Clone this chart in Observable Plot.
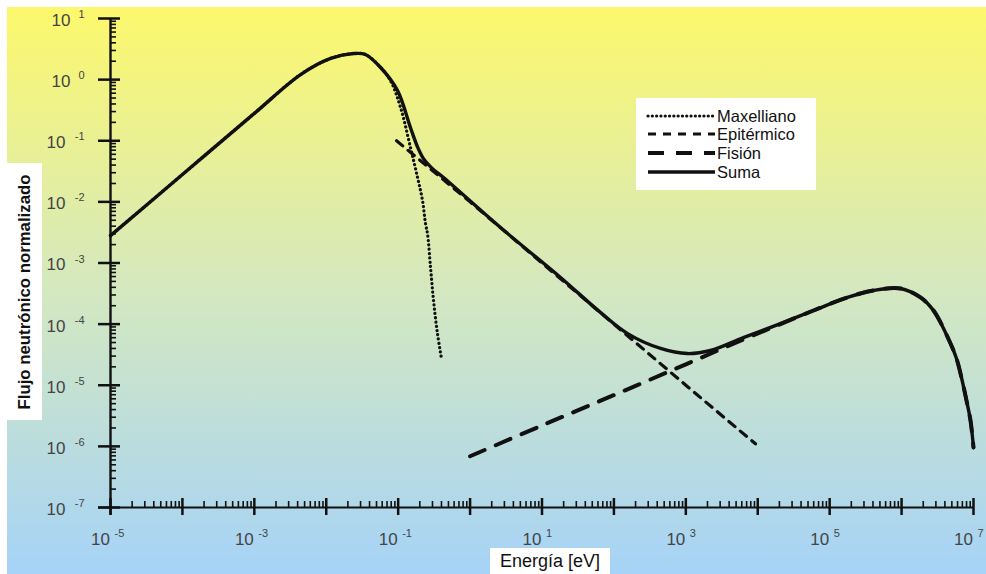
<!DOCTYPE html>
<html><head><meta charset="utf-8">
<script src="https://cdn.jsdelivr.net/npm/d3@7"></script>
<script src="https://cdn.jsdelivr.net/npm/@observablehq/plot@0.6"></script>
<style>
html,body{margin:0;padding:0;background:#fff;}
#wrap{position:relative;width:986px;height:574px;overflow:hidden;font-family:"Liberation Sans",Arial,sans-serif;}
#bg{position:absolute;left:7px;top:7px;width:979px;height:567px;background:linear-gradient(to bottom,#fdf86c 0%,#d4e8c0 50%,#a6d3f7 100%);}
#chart{position:absolute;left:0;top:0;}
#chart svg{background:transparent !important;}
#ylab{position:absolute;left:7px;top:163px;width:35px;height:257px;background:#fff;}
#ylab span{position:absolute;left:50%;top:50%;transform:translate(-50%,-50%) rotate(-90deg);white-space:nowrap;font-weight:bold;font-size:16.8px;color:#111;}
#xlab{position:absolute;left:490px;top:548px;width:120px;height:26px;background:#fff;font-size:18px;text-align:center;line-height:26px;color:#111;}
#legend{position:absolute;left:636px;top:98px;width:180px;height:92px;background:#fff;}
</style>
</head><body>
<div id="wrap">
  <div id="bg"></div>
  <div id="chart"></div>
  <div id="ylab"><span></span></div>
  <div id="xlab"></div>
  <div id="legend"></div>
</div>
<script>
// ---- data ----
const seriesNames = ["Maxelliano", "Epitérmico", "Fisión", "Suma"];
const yTitle = "Flujo neutrónico normalizado";
const xTitle = "Energía [eV]";

const maxE = [1e-5, 1e-4, 1e-3, 4.4e-3, 1.15e-2, 2.4e-2, 3.5e-2, 5.7e-2, 7.8e-2, 0.108, 0.148, 0.186, 0.218, 0.24, 0.256, 0.282, 0.31, 0.352, 0.40];
const maxF = [2.8e-3, 2.8e-2, 0.28, 1.21, 2.22, 2.67, 2.58, 1.58, 0.97, 0.35, 0.078, 0.025, 0.0105, 4.4e-3, 3.0e-3, 8.4e-4, 2.44e-4, 7.0e-5, 2.74e-5];

const epiE = [0.095, 1, 10, 100, 1000, 9300];
const epiF = [0.1, 0.01, 1e-3, 1e-4, 1.0e-5, 1.1e-6];

const fisE = [1, 10, 100, 1000, 6300, 2.07e4, 5.96e4, 1.77e5, 4.06e5, 9.66e5, 1.83e6, 2.78e6, 4.79e6, 5.8e6, 6.8e6, 8.0e6, 9.08e6, 1e7];
const fisF = [6.9e-7, 2.2e-6, 6.9e-6, 2.2e-5, 5.6e-5, 1.0e-4, 1.67e-4, 2.73e-4, 3.55e-4, 3.83e-4, 2.73e-4, 1.67e-4, 4.82e-5, 2.74e-5, 1.34e-5, 5.6e-6, 2.65e-6, 9.6e-7];

const sumaE = [1e-5, 1e-4, 1e-3, 4.4e-3, 1.15e-2, 2.4e-2, 3.5e-2, 5.7e-2, 9.8e-2, 0.148, 0.186, 0.225, 0.30, 0.427, 2.65, 18.1, 63, 155, 445, 1050, 2200, 6300, 2.07e4, 5.96e4, 1.77e5, 4.06e5, 9.66e5, 1.83e6, 2.78e6, 4.79e6, 5.8e6, 6.8e6, 8.0e6, 9.08e6, 1e7];
const sumaF = [2.8e-3, 2.8e-2, 0.28, 1.21, 2.22, 2.67, 2.58, 1.58, 0.66, 0.165, 0.079, 0.051, 0.035, 0.025, 3.8e-3, 5.8e-4, 1.6e-4, 7.0e-5, 4.0e-5, 3.3e-5, 3.7e-5, 6.0e-5, 1.02e-4, 1.67e-4, 2.73e-4, 3.55e-4, 3.83e-4, 2.73e-4, 1.67e-4, 4.82e-5, 2.74e-5, 1.34e-5, 5.6e-6, 2.65e-6, 9.6e-7];

const xDecades = [-5, -4, -3, -2, -1, 0, 1, 2, 3, 4, 5, 6, 7];
const xLabelExps = [-5, -3, -1, 1, 3, 5, 7];
const yDecades = [-7, -6, -5, -4, -3, -2, -1, 0, 1];
const minorMult = [2, 3, 4, 5, 6, 7, 8, 9];

// ---- layout ----
const W = 986, H = 574, ML = 110, MR = 13, MT = 18, MB = 67;
const pxDecX = (W - ML - MR) / 12, pxDecY = (H - MT - MB) / 8;
const shiftX = (v, px) => v * Math.pow(10, px / pxDecX);
const shiftY = (v, px) => v * Math.pow(10, -px / pxDecY);

const rows = (E, F) => E.map((e, i) => ({E: e, F: F[i]}));
const xMajor = xDecades.map(k => Math.pow(10, k));
const xMinor = xDecades.slice(0, -1).flatMap(k => minorMult.map(m => m * Math.pow(10, k)));
const yMajor = yDecades.map(k => Math.pow(10, k));
const yMinor = yDecades.slice(0, -1).flatMap(k => minorMult.map(m => m * Math.pow(10, k)));
const xLab = xLabelExps.map(k => ({v: Math.pow(10, k), e: String(k)}));
const yLabPos = yDecades.filter(k => k >= 0).map(k => ({v: Math.pow(10, k), e: String(k)}));
const yLabNeg = yDecades.filter(k => k < 0).map(k => ({v: Math.pow(10, k), e: String(k)}));

const xMin = 1e-5, yMin = 1e-7;
const lab = "#444";
const styles = {
  "Maxelliano": {strokeWidth: 3.2, strokeDasharray: "0.1,4.2", strokeLinecap: "round"},
  "Epitérmico": {strokeWidth: 3.2, strokeDasharray: "8,7"},
  "Fisión": {strokeWidth: 4, strokeDasharray: "16,12"},
  "Suma": {strokeWidth: 3.4}
};

const chart = Plot.plot({
  width: W, height: H, marginLeft: ML, marginRight: MR, marginTop: MT, marginBottom: MB,
  x: {type: "log", domain: [1e-5, 1e7], axis: null},
  y: {type: "log", domain: [1e-7, 10], axis: null},
  style: {background: "transparent", overflow: "visible", fontFamily: "Liberation Sans, Arial, sans-serif"},
  marks: [
    // axes
    Plot.ruleY([yMin], {x1: shiftX(xMin, -12), x2: 1e7, stroke: "#111", strokeWidth: 2.2}),
    Plot.ruleX([xMin], {y1: shiftY(yMin, 8), y2: 10, stroke: "#111", strokeWidth: 2.4}),
    Plot.ruleX(xMajor, {x: d => d, y1: shiftY(yMin, 8), y2: shiftY(yMin, -9), stroke: "#111", strokeWidth: 2.5}),
    Plot.ruleX(xMinor, {x: d => d, y1: yMin, y2: shiftY(yMin, -6), stroke: "#111", strokeWidth: 1.6}),
    Plot.ruleY(yMajor, {y: d => d, x1: shiftX(xMin, -12), x2: shiftX(xMin, 10), stroke: "#111", strokeWidth: 2.5}),
    Plot.ruleY(yMinor, {y: d => d, x1: xMin, x2: shiftX(xMin, 6), stroke: "#111", strokeWidth: 1.6}),
    // tick labels
    Plot.text(xLab, {x: "v", y: yMin, text: () => "10", dx: -10, dy: 32, fontSize: 17, fill: lab, textAnchor: "middle"}),
    Plot.text(xLab, {x: "v", y: yMin, text: "e", dx: 4, dy: 26, fontSize: 11, fill: lab, textAnchor: "start"}),
    Plot.text(yLabPos, {x: xMin, y: "v", text: () => "10", dx: -40, dy: 2, fontSize: 17, fill: lab, textAnchor: "end"}),
    Plot.text(yLabNeg, {x: xMin, y: "v", text: () => "10", dx: -45, dy: 2, fontSize: 17, fill: lab, textAnchor: "end"}),
    Plot.text([...yLabPos, ...yLabNeg], {x: xMin, y: "v", text: "e", dx: -26, dy: -4, fontSize: 11, fill: lab, textAnchor: "end"}),
    // series
    Plot.line(rows(maxE, maxF), {x: "E", y: "F", stroke: "#111", curve: "catmull-rom", ...styles["Maxelliano"]}),
    Plot.line(rows(epiE, epiF), {x: "E", y: "F", stroke: "#111", ...styles["Epitérmico"]}),
    Plot.line(rows(fisE, fisF), {x: "E", y: "F", stroke: "#111", curve: "catmull-rom", ...styles["Fisión"]}),
    Plot.line(rows(sumaE, sumaF), {x: "E", y: "F", stroke: "#111", curve: "catmull-rom", ...styles["Suma"]})
  ]
});
document.getElementById("chart").appendChild(chart);
document.querySelector("#ylab span").textContent = yTitle;
document.getElementById("xlab").textContent = xTitle;

// legend
const lsvg = d3.create("svg").attr("width", 180).attr("height", 92);
const rowY = [18, 36, 55, 74];
seriesNames.forEach((name, i) => {
  const st = styles[name];
  lsvg.append("line").attr("x1", 12).attr("x2", 79).attr("y1", rowY[i]).attr("y2", rowY[i])
    .attr("stroke", "#111").attr("stroke-width", st.strokeWidth)
    .attr("stroke-dasharray", st.strokeDasharray || null)
    .attr("stroke-linecap", st.strokeLinecap || null);
  lsvg.append("text").attr("x", 81).attr("y", rowY[i]).attr("dy", "0.36em")
    .attr("font-size", 16.5).attr("fill", "#111")
    .attr("font-family", "Liberation Sans, Arial, sans-serif").text(name);
});
document.getElementById("legend").appendChild(lsvg.node());
</script>
</body></html>
